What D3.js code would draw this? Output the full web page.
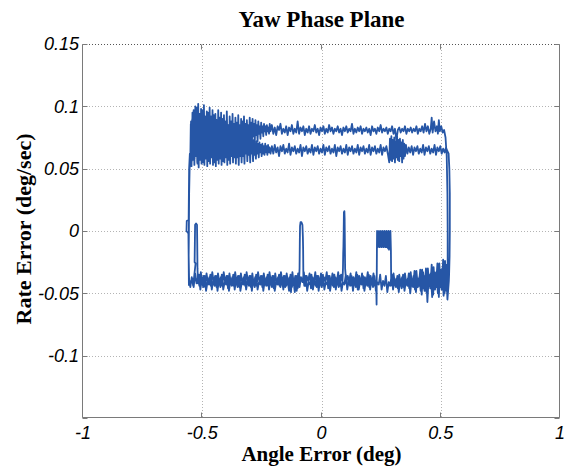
<!DOCTYPE html>
<html>
<head>
<meta charset="utf-8">
<script src="https://cdn.jsdelivr.net/npm/d3@7"></script>
<style>
  body { margin: 0; background: #fff; }
</style>
</head>
<body>
<svg id="mainFrame"></svg>
<script>
// axis ticks
const xTicks = [-1, -0.5, 0, 0.5, 1];
const xTickLabels = ["-1", "-0.5", "0", "0.5", "1"];
const yTicks = [-0.15, -0.1, -0.05, 0, 0.05, 0.1, 0.15];
const yTickLabels = ["", "-0.1", "-0.05", "0", "0.05", "0.1", "0.15"];

// trajectory pieces, [angle error, rate error] in milli-deg and milli-deg/sec
const leftRiseA = [[-556,-44],[-557,-20],[-558,-2],[-566,0],[-565,8],[-557,9],[-556,30],[-555,50],[-552,62]];
const topNoiseA = [[-550,60],[-547,88],[-544,56],[-541,95],[-538,62],[-535,84],[-532,58],[-529,100],[-526,66],[-523,91],
  [-520,54],[-517,102],[-514,61],[-511,93],[-508,57],[-505,98],[-502,68],[-499,87],[-496,55],[-493,101],[-490,63],[-487,90],
  [-484,58],[-481,96],[-478,70],[-475,85],[-472,56],[-469,99],[-466,64],[-463,92],[-460,59],[-457,97],[-454,67],[-451,88],
  [-448,55],[-445,94],[-442,62],[-439,89],[-436,57],[-433,97],[-430,68],[-427,86],[-424,58],[-421,95],[-418,64],[-415,90],
  [-412,56],[-409,93],[-406,69],[-403,87],[-400,60],[-397,96],[-394,66],[-391,85],[-388,57],[-385,92],[-382,71],[-379,88],
  [-376,61],[-373,94],[-370,67],[-367,86],[-364,59],[-361,91],[-358,72],[-355,87],[-352,63],[-349,93],[-346,69],[-343,85],
  [-340,60],[-337,90],[-334,74],[-331,88],[-328,64],[-325,92],[-322,71],[-319,86],[-316,62],[-313,89],[-310,75],[-307,85],
  [-304,66],[-301,91],[-298,73],[-295,87],[-292,68],[-289,90],[-286,76],[-283,86],[-280,70],[-277,89],[-274,77],[-271,85],
  [-268,72],[-265,88],[-262,78],[-259,84],[-256,74],[-253,87],[-250,79],[-247,84],[-244,76],[-241,86],[-238,80],[-235,84],
  [-232,77],[-229,85],[-226,80],[-223,83],[-220,78],[-217,86],[-214,80]];
const upperLine = [[-208,85],[-202,78],[-196,83],[-190,77],[-184,84],[-178,81],[-172,86],[-166,78],[-160,82],[-154,79],
  [-148,84],[-142,77],[-136,83],[-130,80],[-124,85],[-118,78],[-112,82],[-106,79],[-100,88],[-94,78],[-88,83],[-82,80],
  [-76,84],[-70,77],[-64,82],[-58,79],[-52,84],[-46,78],[-40,82],[-34,80],[-28,85],[-22,79],[-16,82],[-10,77],[-4,83],
  [2,80],[8,84],[14,78],[20,82],[26,79],[32,85],[38,80],[44,83],[50,78],[56,82],[62,80],[68,84],[74,79],[80,82],[86,77],
  [92,83],[98,80],[104,84],[110,79],[116,82],[122,80],[128,86],[134,78],[140,82],[146,79],[152,83],[158,80],[164,84],
  [170,78],[176,82],[182,80],[188,83],[194,79],[200,82],[206,77],[212,84],[218,80],[224,82],[230,78],[236,83],[242,80],
  [248,85],[254,79],[260,82],[266,80],[272,83],[278,78],[284,82],[290,80],[296,84],[302,78],[308,82],[314,73],[320,81],
  [326,83],[332,79],[338,82],[344,80],[350,84],[356,78],[362,82],[368,80],[374,83],[380,79],[386,82],[392,80],[398,84],
  [404,78],[410,82],[416,80],[422,84],[428,79],[434,86],[440,80],[446,84],[452,78],[458,82],[462,91],[466,79],[472,88],
  [478,80],[484,84],[488,78],[492,89],[496,80],[502,84],[508,79],[514,81]];
const rightFallA = [[520,75],[525,60],[528,30],[529,0],[529,-25],[528,-40]];
const bottomA = [[530,-28],[524,-48],[518,-24],[512,-52],[506,-30],[500,-45],[494,-26],[488,-50],[482,-33],[476,-47],
  [470,-29],[464,-53],[458,-34],[452,-44],[446,-30],[440,-49],[434,-36],[428,-46],[422,-31],[416,-48],[410,-37],[404,-45],
  [398,-32],[392,-47],[386,-36],[380,-44],[374,-33],[368,-46],[362,-38],[356,-43],[350,-34],[344,-45],[338,-37],[332,-42],
  [326,-35],[320,-46],[314,-38],[308,-43],[302,-34],[296,-44],[292,-38],
  [291,-15],[289,0],[287,-14],[285,-1],[283,-15],[281,0],[279,-14],[277,-1],[275,-13],[273,0],[271,-13],[269,-1],[267,-13],
  [265,0],[263,-12],[261,-1],[259,-13],[257,0],[255,-12],[253,-1],[251,-13],[249,0],[247,-12],[245,-1],[243,-13],[241,0],
  [239,-12],[237,-1],[235,-13],[233,0],[232,-25],[231,-59],[229,-40],
  [224,-44],[218,-34],[212,-42],[206,-36],[200,-45],[194,-33],[188,-41],[182,-37],[176,-46],[170,-34],[164,-42],[158,-36],
  [152,-47],[146,-33],[140,-41],[134,-37],[128,-44],[122,-34],[116,-40],[110,-36],[104,-42],[99,-30],[98,-10],[97,10],
  [96,16],[94,15],[93,0],[92,-12],[91,-18],[90,-30],[88,-40],
  [82,-35],[76,-44],[70,-33],[64,-41],[58,-37],[52,-45],[46,-34],[40,-42],[34,-36],[28,-46],[22,-33],[16,-40],[10,-37],
  [4,-44],[-2,-34],[-8,-42],[-14,-36],[-20,-45],[-26,-33],[-32,-41],[-38,-37],[-44,-46],[-50,-34],[-56,-40],[-62,-36],
  [-68,-44],[-74,-33],[-80,-41],[-86,-37],[-92,-45],[-98,-34],[-104,-48],[-110,-36],[-116,-43],[-122,-33],[-128,-49],
  [-134,-37],[-140,-42],[-146,-34],[-152,-45],[-158,-36],[-164,-41],[-170,-33],[-176,-44],[-182,-37],[-188,-42],[-194,-34],
  [-200,-46],[-206,-36],[-212,-41],[-218,-33],[-224,-44],[-230,-37],[-236,-42],[-242,-34],[-248,-45],[-254,-36],[-260,-41],
  [-266,-33],[-272,-44],[-278,-37],[-284,-43],[-290,-34],[-296,-45],[-302,-36],[-308,-41],[-314,-33],[-320,-44],[-326,-37],
  [-332,-42],[-338,-34],[-344,-45],[-350,-36],[-356,-41],[-362,-33],[-368,-44],[-374,-37],[-380,-42],[-386,-34],[-392,-46],
  [-398,-36],[-404,-41],[-410,-33],[-416,-44],[-422,-37],[-428,-42],[-434,-34],[-440,-45],[-446,-36],[-452,-41],[-458,-33],
  [-464,-44],[-470,-37],[-476,-42],[-482,-34],[-488,-45],[-494,-36],[-500,-41],[-506,-33],[-512,-44],[-518,-37],[-524,-42],
  [-530,-34],[-536,-45],[-542,-38],[-548,-42],[-553,-40]];
const leftRiseB = [[-556,-40],[-557,-20],[-556,0],[-555,30],[-553,50],[-550,58]];
const topNoiseB = [[-548,86],[-545,52],[-542,90],[-539,57],[-536,97],[-533,53],[-530,84],[-527,60],[-524,99],[-521,55],
  [-518,88],[-515,51],[-512,94],[-509,62],[-506,86],[-503,54],[-500,97],[-497,58],[-494,83],[-491,53],[-488,92],[-485,61],
  [-482,87],[-479,52],[-476,95],[-473,59],[-470,82],[-467,54],[-464,90],[-461,63],[-458,85],[-455,53],[-452,93],[-449,57],
  [-446,80],[-443,52],[-440,89],[-437,61],[-434,84],[-431,54],[-428,91],[-425,58],[-422,79],[-419,53],[-416,87],[-413,62],
  [-410,82],[-407,55],[-404,88],[-401,59],[-398,78],[-395,53],[-392,85],[-389,63],[-386,80],[-383,54],[-380,84],[-377,60],
  [-374,77],[-371,55],[-368,82],[-365,62],[-362,76],[-359,54],[-356,80],[-353,59],[-350,75],[-347,53],[-344,79],[-341,61],
  [-338,74],[-335,55],[-332,78],[-329,60],[-326,73],[-323,54],[-320,76],[-317,62],[-314,72],[-311,56],[-308,75],[-305,61],
  [-302,71],[-299,55],[-296,74],[-293,62],[-290,70],[-287,56],[-284,73],[-281,61],[-278,69],[-275,58],[-272,72],[-269,62],
  [-266,70],[-263,59],[-260,71],[-257,63],[-254,69],[-251,60],[-248,70],[-245,62],[-242,68],[-239,61],[-236,70],[-233,63],
  [-230,68],[-227,61],[-224,69],[-221,63],[-218,67],[-214,62]];
const lowerLine = [[-208,68],[-202,62],[-196,69],[-190,63],[-184,67],[-178,60],[-172,68],[-166,64],[-160,69],[-154,62],
  [-148,66],[-142,63],[-136,70],[-130,61],[-124,67],[-118,64],[-112,68],[-106,62],[-100,66],[-94,63],[-88,69],[-82,60],
  [-76,67],[-70,64],[-64,68],[-58,62],[-52,66],[-46,63],[-40,69],[-34,61],[-28,67],[-22,64],[-16,68],[-10,62],[-4,66],
  [2,63],[8,69],[14,61],[20,67],[26,64],[32,68],[38,62],[44,66],[50,63],[56,69],[62,60],[68,67],[74,64],[80,68],[86,62],
  [92,66],[98,63],[104,69],[110,61],[116,67],[122,64],[128,68],[134,62],[140,66],[146,63],[152,69],[158,61],[164,67],
  [170,64],[176,68],[182,62],[188,66],[194,63],[200,69],[206,61],[212,67],[218,64],[224,68],[230,62],[236,66],[242,63],
  [248,69],[254,61],[260,67],[266,64],[272,68],[278,62],
  [284,55],[287,74],[290,57],[293,76],[296,56],[299,73],[302,58],[305,75],[308,55],[311,72],[314,59],[317,76],[320,57],
  [323,73],[326,56],[329,74],[332,60],[335,71],[338,55],[341,73],[344,58],[347,70],[350,60],[354,69],
  [360,62],[366,67],[372,63],[378,68],[384,61],[390,67],[396,64],[402,68],[408,62],[414,66],[420,63],[426,69],[432,61],
  [438,67],[444,64],[450,68],[456,62],[462,66],[468,63],[474,69],[480,61],[486,67],[492,64],[498,68],[504,62],[510,66],
  [516,63],[522,67],[528,64]];
const rightFallB = [[533,62],[536,50],[538,30],[538,0],[537,-20],[535,-35]];
const bottomB = [[534,-40],[528,-55],[522,-27],[516,-50],[510,-23],[504,-47],[498,-31],[492,-53],[486,-26],[480,-45],
  [474,-33],[468,-51],[462,-27],[456,-46],[450,-35],[444,-57],[438,-30],[432,-48],[426,-33],[420,-51],[414,-31],[408,-44],
  [402,-38],[396,-49],[390,-32],[384,-45],[378,-39],[372,-50],[366,-34],[360,-44],[354,-40],[348,-48],[342,-35],[336,-46],
  [330,-39],[324,-49],[318,-36],[312,-45],[306,-40],[300,-47],[294,-35],[288,-44],[282,-41],[276,-49],[270,-36],[264,-44],
  [258,-40],[252,-47],[246,-35],[240,-43],[234,-41],[228,-48],[222,-36],[216,-45],[210,-39],[204,-47],[198,-35],[192,-44],
  [186,-40],[180,-48],[174,-36],[168,-43],[162,-41],[156,-47],[150,-35],[144,-45],[138,-39],[132,-48],[126,-36],[120,-44],
  [114,-40],[108,-47],[102,-35],[96,-43],[90,-41],[84,-48],[78,-36],[72,-45],[66,-39],[60,-47],[54,-35],[48,-44],[42,-40],
  [36,-48],[30,-36],[24,-43],[18,-41],[12,-47],[6,-35],[0,-45],[-6,-39],[-12,-48],[-18,-36],[-24,-44],[-30,-40],[-36,-47],
  [-42,-35],[-48,-43],[-54,-41],[-60,-48],[-66,-36],[-72,-44],
  [-76,-38],[-77,-15],[-78,-5],[-80,5],[-84,7],[-88,7],[-90,4],[-91,-10],[-92,-30],[-94,-40],
  [-100,-46],[-106,-36],[-112,-49],[-118,-39],[-124,-45],[-130,-35],[-136,-48],[-142,-40],[-148,-44],[-154,-36],[-160,-47],
  [-166,-39],[-172,-45],[-178,-35],[-184,-43],[-190,-41],[-196,-48],[-202,-36],[-208,-45],[-214,-39],[-220,-47],[-226,-35],
  [-232,-44],[-238,-40],[-244,-48],[-250,-36],[-256,-43],[-262,-41],[-268,-47],[-274,-35],[-280,-45],[-286,-39],[-292,-48],
  [-298,-36],[-304,-44],[-310,-40],[-316,-47],[-322,-35],[-328,-43],[-334,-41],[-340,-48],[-346,-36],[-352,-45],[-358,-39],
  [-364,-47],[-370,-35],[-376,-44],[-382,-40],[-388,-48],[-394,-36],[-400,-43],[-406,-41],[-412,-47],[-418,-35],[-424,-45],
  [-430,-39],[-436,-48],[-442,-36],[-448,-44],[-454,-40],[-460,-47],[-466,-35],[-472,-43],[-478,-41],[-484,-48],[-490,-36],
  [-496,-45],[-502,-39],[-508,-47],[-514,-35],[-518,-42],
  [-520,-30],[-521,-10],[-522,5],[-526,6],[-530,5],[-531,-10],[-532,-25],[-528,-26],[-533,-35],[-538,-44],[-544,-37],
  [-550,-45],[-555,-40],[-557,-20]];

const W = 565, H = 468;
const margin = { left: 83, right: 5, top: 44, bottom: 50 };

function draw() {
    const trajectory = [].concat(leftRiseA, topNoiseA, upperLine, rightFallA, bottomA,
        leftRiseB, topNoiseB, lowerLine, rightFallB, bottomB)
        .map(d => [d[0] / 1000, d[1] / 1000]);

    const x = d3.scaleLinear()
        .domain([-1, 1])
        .range([margin.left, W - margin.right]);

    const y = d3.scaleLinear()
        .domain([-0.15, 0.15])
        .range([H - margin.bottom, margin.top]);

    const svg = d3.select("#mainFrame")
        .attr("width", W)
        .attr("height", H);

    // dotted grid
    svg.append("g")
        .selectAll("line")
        .data(xTicks.slice(1, -1))
        .join("line")
        .attr("x1", d => Math.round(x(d)) + 0.5)
        .attr("x2", d => Math.round(x(d)) + 0.5)
        .attr("y1", y(0.15))
        .attr("y2", y(-0.15))
        .attr("stroke", "#b4b4b4")
        .attr("stroke-dasharray", "1,2");

    svg.append("g")
        .selectAll("line")
        .data(yTicks.slice(1))
        .join("line")
        .attr("x1", x(-1))
        .attr("x2", x(1))
        .attr("y1", d => Math.round(y(d)) + 0.5)
        .attr("y2", d => Math.round(y(d)) + 0.5)
        .attr("stroke", d => d === 0.15 ? "#555" : "#b4b4b4")
        .attr("stroke-dasharray", "1,2");

    // trajectory
    const line = d3.line()
        .x(d => x(d[0]))
        .y(d => y(d[1]));

    svg.append("path")
        .datum(trajectory)
        .attr("fill", "none")
        .attr("stroke", "#2656a6")
        .attr("stroke-width", 1.8)
        .attr("stroke-linejoin", "round")
        .attr("d", line);

    // frame (left, right, bottom solid)
    const fx0 = Math.round(x(-1)) - 0.5, fx1 = Math.round(x(1)) - 0.5;
    const fy0 = Math.round(y(0.15)) + 0.5, fy1 = Math.round(y(-0.15)) - 0.5;
    svg.append("path")
        .attr("d", `M${fx0},${fy0}V${fy1}H${fx1}V${fy0}`)
        .attr("fill", "none")
        .attr("stroke", "#7a7a7a");

    // inward ticks
    const tickLen = 5;
    const ticks = svg.append("g").attr("stroke", "#7a7a7a");
    xTicks.forEach(t => {
        const px = Math.round(x(t)) - 0.5;
        ticks.append("line").attr("x1", px).attr("x2", px).attr("y1", fy1).attr("y2", fy1 - tickLen);
        ticks.append("line").attr("x1", px).attr("x2", px).attr("y1", fy0).attr("y2", fy0 + tickLen);
    });
    yTicks.forEach(t => {
        const py = Math.round(y(t)) + 0.5;
        ticks.append("line").attr("x1", fx0).attr("x2", fx0 + tickLen).attr("y1", py).attr("y2", py);
        ticks.append("line").attr("x1", fx1).attr("x2", fx1 - tickLen).attr("y1", py).attr("y2", py);
    });

    // tick labels
    svg.append("g")
        .attr("font-family", "Liberation Sans, Arial, sans-serif")
        .attr("font-style", "italic")
        .attr("font-size", 18)
        .attr("text-anchor", "middle")
        .selectAll("text")
        .data(xTicks)
        .join("text")
        .attr("x", d => x(d))
        .attr("y", 439)
        .text((d, i) => xTickLabels[i]);

    svg.append("g")
        .attr("font-family", "Liberation Sans, Arial, sans-serif")
        .attr("font-style", "italic")
        .attr("font-size", 18)
        .attr("text-anchor", "end")
        .selectAll("text")
        .data(yTicks)
        .join("text")
        .attr("x", x(-1) - 4)
        .attr("y", d => y(d))
        .attr("dy", "0.36em")
        .text((d, i) => yTickLabels[i]);

    // title and axis labels
    svg.append("text")
        .attr("x", (x(-1) + x(1)) / 2)
        .attr("y", 27)
        .attr("text-anchor", "middle")
        .attr("font-family", "Liberation Serif, Times New Roman, serif")
        .attr("font-weight", "bold")
        .attr("font-size", 23)
        .text("Yaw Phase Plane");

    svg.append("text")
        .attr("x", (x(-1) + x(1)) / 2)
        .attr("y", 461)
        .attr("text-anchor", "middle")
        .attr("font-family", "Liberation Serif, Times New Roman, serif")
        .attr("font-weight", "bold")
        .attr("font-size", 21)
        .text("Angle Error (deg)");

    svg.append("text")
        .attr("transform", `translate(31,${(y(0.15) + y(-0.15)) / 2 - 2}) rotate(-90)`)
        .attr("text-anchor", "middle")
        .attr("font-family", "Liberation Serif, Times New Roman, serif")
        .attr("font-weight", "bold")
        .attr("font-size", 22)
        .text("Rate Error (deg/sec)");

    return svg.node();
}

draw();
</script>
</body>
</html>
